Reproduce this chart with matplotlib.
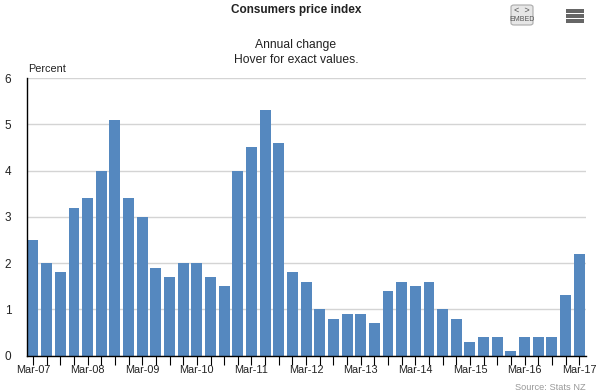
import matplotlib
matplotlib.use('Agg')
import matplotlib.pyplot as plt
from matplotlib.patches import FancyBboxPatch, Rectangle

plt.rcParams['font.family'] = ['Liberation Sans', 'DejaVu Sans']

W, H = 603, 391

years = ['07', '08', '09', '10', '11', '12', '13', '14', '15', '16', '17']
tick_labels = ['Mar-' + y for y in years]
values = [2.5, 2.0, 1.8, 3.2, 3.4, 4.0, 5.1, 3.4, 3.0, 1.9, 1.7, 2.0, 2.0, 1.7,
          1.5, 4.0, 4.5, 5.3, 4.6, 1.8, 1.6, 1.0, 0.8, 0.9, 0.9, 0.7, 1.4, 1.6,
          1.5, 1.6, 1.0, 0.8, 0.3, 0.4, 0.4, 0.1, 0.4, 0.4, 0.4, 1.3, 2.2]
y_ticks = [0, 1, 2, 3, 4, 5, 6]

fig = plt.figure(figsize=(W / 100, H / 100), dpi=100)
ax = fig.add_axes([26.5 / W, 1 - 355.5 / H, (586 - 26.5) / W, (355.5 - 78) / H])

x = list(range(len(values)))
ax.bar(x, values, width=0.8, color='#5588bf', zorder=2)
ax.set_xlim(-0.476, 40.5)
ax.set_ylim(0, 6)

# grid and axes
ax.set_yticks(y_ticks)
ax.yaxis.grid(True, color='#d4d4d4', linewidth=1)
ax.set_axisbelow(True)
ax.spines['right'].set_color('none')
ax.spines['top'].set_color('none')
ax.spines['left'].set_linewidth(1)
ax.spines['bottom'].set_linewidth(1)
ax.tick_params(axis='y', length=0, pad=11, labelsize=8.5, labelcolor='#222222')
ax.set_xticks(x)
ax.set_xticklabels([tick_labels[i // 4] if i % 4 == 0 else '' for i in x])
ax.tick_params(axis='x', length=6.5, width=0.8, pad=0.3, labelsize=7.85, labelcolor='#222222')


def px(xp, yp):
    return xp / W, 1 - yp / H


# titles
fig.text(*px(296, 10), 'Consumers price index', ha='center', va='center',
         fontsize=8.5, fontweight='bold', color='#222222')
fig.text(*px(296, 45), 'Annual change', ha='center', va='center', fontsize=8.7, color='#222222')
fig.text(*px(296, 60), 'Hover for exact values.', ha='center', va='center', fontsize=8.7, color='#222222')
fig.text(*px(28.5, 68.5), 'Percent', ha='left', va='center', fontsize=7.8, color='#222222')
fig.text(*px(586, 387.5), 'Source: Stats NZ', ha='right', va='center', fontsize=6.7, color='#999999')

# embed button
bx, by = px(511, 25)
fig.add_artist(FancyBboxPatch((bx, by), 22 / W, 20 / H, boxstyle='round,pad=0,rounding_size=0.005',
                              transform=fig.transFigure, facecolor='#e6e6e6',
                              edgecolor='#aaaaaa', linewidth=0.8))
fig.text(*px(522, 10.5), '<  >', ha='center', va='center', fontsize=6.5, color='#555555')
fig.text(*px(522, 19.5), 'EMBED', ha='center', va='center', fontsize=5, color='#555555')

# menu icon
for yp in [11, 16, 21]:
    rx, ry = px(566, yp + 1.5)
    fig.add_artist(Rectangle((rx, ry), 17.5 / W, 3 / H, transform=fig.transFigure,
                             facecolor='#666666', edgecolor='none'))

fig.savefig('out.png', dpi=100)
